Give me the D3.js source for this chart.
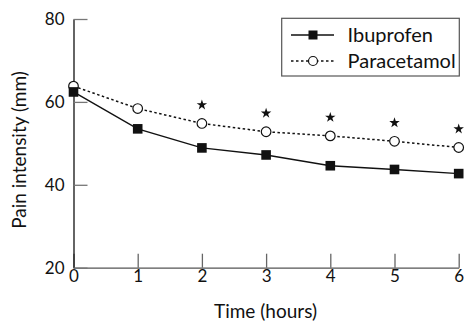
<!DOCTYPE html>
<html>
<head>
<meta charset="utf-8">
<script src="https://cdn.jsdelivr.net/npm/d3@7"></script>
<style>
  body { margin: 0; background: #fff; }
  text { font-family: Lato, "Open Sans", sans-serif; fill: #111; }
</style>
</head>
<body>
<div id="chart"></div>
<script>
// data
const hours = [0, 1, 2, 3, 4, 5, 6];
const ibuprofen = [62.4, 53.5, 48.9, 47.2, 44.6, 43.7, 42.7];
const paracetamol = [63.8, 58.4, 54.8, 52.8, 51.8, 50.5, 49.0];
const significant = [2, 3, 4, 5, 6];
const yTicks = [20, 40, 60, 80];
const seriesNames = ["Ibuprofen", "Paracetamol"];

const svg = d3.select("#chart")
    .append("svg")
    .attr("width", 466)
    .attr("height", 322);

const x = d3.scaleLinear().domain([0, 6]).range([73.5, 458.7]);
const y = d3.scaleLinear().domain([20, 80]).range([267.7, 19]);

// X axis
const xAxis = svg.append("g")
    .attr("transform", "translate(0," + y(20) + ")")
    .call(d3.axisBottom(x).tickValues(hours).tickFormat(d3.format("d"))
        .tickSize(-14).tickSizeOuter(0).tickPadding(2));
xAxis.select(".domain").attr("stroke", "#555").attr("stroke-width", 1.3);
xAxis.selectAll(".tick line").attr("stroke", "#666").attr("stroke-width", 1.3);
xAxis.selectAll("text").style("font-size", "17px").attr("fill", "#111");

// Y axis
const yAxis = svg.append("g")
    .attr("transform", "translate(" + x(0) + ",0)")
    .call(d3.axisLeft(y).tickValues(yTicks).tickFormat(d3.format("d"))
        .tickSize(-14).tickSizeOuter(0).tickPadding(9));
yAxis.select(".domain").attr("stroke", "#111").attr("stroke-width", 1.3);
yAxis.selectAll(".tick line").attr("stroke", "#777").attr("stroke-width", 1.3);
yAxis.selectAll("text").style("font-size", "17px").attr("fill", "#111");

// axis titles
svg.append("text")
    .attr("x", 265.5)
    .attr("y", 318)
    .attr("text-anchor", "middle")
    .style("font-size", "19px")
    .text("Time (hours)");

svg.append("text")
    .attr("transform", "translate(26,150) rotate(-90)")
    .attr("text-anchor", "middle")
    .style("font-size", "19px")
    .text("Pain intensity (mm)");

const line = d3.line()
    .x((d, i) => x(hours[i]))
    .y(d => y(d));

// lines
svg.append("path")
    .attr("d", line(paracetamol))
    .attr("fill", "none")
    .attr("stroke", "#111")
    .attr("stroke-width", 1.5)
    .attr("stroke-dasharray", "2.5,2.5");

svg.append("path")
    .attr("d", line(ibuprofen))
    .attr("fill", "none")
    .attr("stroke", "#111")
    .attr("stroke-width", 1.4);

// markers
svg.append("g")
    .selectAll("circle")
    .data(paracetamol)
    .enter()
    .append("circle")
    .attr("cx", (d, i) => x(hours[i]))
    .attr("cy", d => y(d))
    .attr("r", 4.8)
    .attr("fill", "#fff")
    .attr("stroke", "#111")
    .attr("stroke-width", 1.2);

svg.append("g")
    .selectAll("rect")
    .data(ibuprofen)
    .enter()
    .append("rect")
    .attr("x", (d, i) => x(hours[i]) - 4.8)
    .attr("y", d => y(d) - 4.8)
    .attr("width", 9.6)
    .attr("height", 9.6)
    .attr("fill", "#111");

// significance stars above paracetamol points
const star = d3.symbol().type(d3.symbolStar).size(34);
svg.append("g")
    .selectAll("path")
    .data(significant)
    .enter()
    .append("path")
    .attr("d", star)
    .attr("transform", d => "translate(" + x(d) + "," + (y(paracetamol[hours.indexOf(d)]) - 18.5) + ")")
    .attr("fill", "#111");

// legend
const legend = svg.append("g");
legend.append("rect")
    .attr("x", 281.7)
    .attr("y", 18.3)
    .attr("width", 177.6)
    .attr("height", 57.7)
    .attr("fill", "#fff")
    .attr("stroke", "#555")
    .attr("stroke-width", 1.2);

const rows = legend.selectAll(".row")
    .data(seriesNames)
    .enter().append("g")
    .attr("class", "row")
    .attr("transform", (d, i) => "translate(0," + (35 + i * 26) + ")");

rows.append("line")
    .attr("x1", 291)
    .attr("x2", 334)
    .attr("stroke", "#111")
    .attr("stroke-width", (d, i) => i === 0 ? 1.4 : 1.5)
    .attr("stroke-dasharray", (d, i) => i === 0 ? null : "2.5,2.5");

rows.filter((d, i) => i === 0).append("rect")
    .attr("x", 313 - 4.5)
    .attr("y", -4.5)
    .attr("width", 9)
    .attr("height", 9)
    .attr("fill", "#111");

rows.filter((d, i) => i === 1).append("circle")
    .attr("cx", 313)
    .attr("r", 4.5)
    .attr("fill", "#fff")
    .attr("stroke", "#111")
    .attr("stroke-width", 1.2);

rows.append("text")
    .attr("x", 347.5)
    .attr("y", 0)
    .attr("dy", "0.36em")
    .style("font-size", "20px")
    .text(d => d);
</script>
</body>
</html>
